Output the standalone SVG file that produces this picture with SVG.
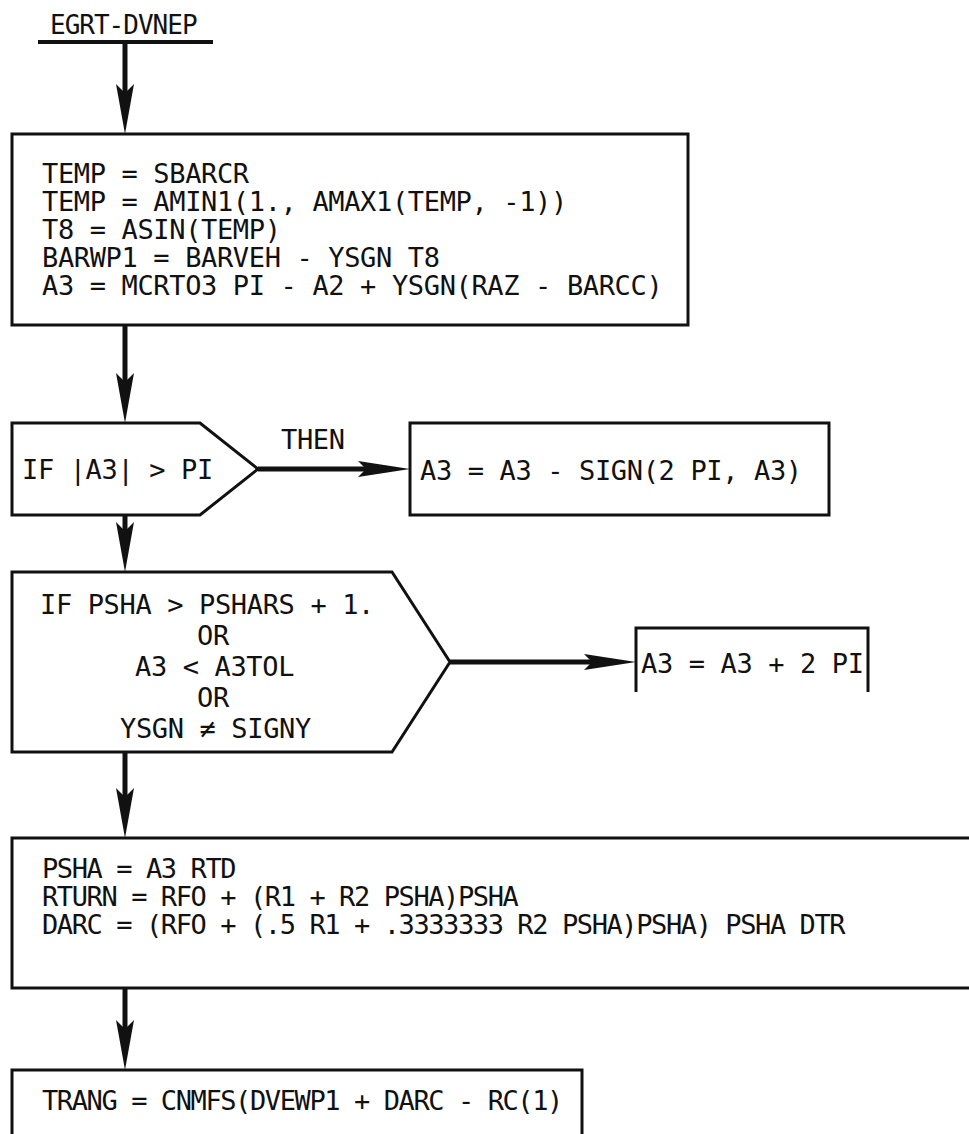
<svg xmlns="http://www.w3.org/2000/svg" width="969" height="1134" viewBox="0 0 969 1134">
<style>
.t{font-family:"DejaVu Sans Mono","Liberation Mono",monospace;font-size:27px;fill:#111;letter-spacing:-0.35px}
.n{letter-spacing:-1.4px}
.b{fill:#fff;stroke:#111;stroke-width:3}
.o{fill:none;stroke:#111;stroke-width:3}
.c{stroke:#111;stroke-width:5;fill:none}
.h{fill:#111}
</style>
<rect width="969" height="1134" fill="#fff"/>
<g id="title">
<text class="t" x="50" y="34" style="font-size:26px;letter-spacing:-1px">EGRT-DVNEP</text>
<line x1="38" y1="42" x2="213" y2="42" stroke="#111" stroke-width="4"/>
</g>
<g id="box1">
<rect class="b" x="12" y="134" width="676" height="191"/>
<text class="t" x="42" y="183">TEMP = SBARCR</text>
<text class="t" x="42" y="211">TEMP = AMIN1(1., AMAX1(TEMP, -1))</text>
<text class="t" x="42" y="239">T8 = ASIN(TEMP)</text>
<text class="t" x="42" y="267">BARWP1 = BARVEH - YSGN T8</text>
<text class="t" x="42" y="295">A3 = MCRTO3 PI - A2 + YSGN(RAZ - BARCC)</text>
</g>
<g id="dec1">
<path class="b" d="M12 423 H200 L258 469 L200 515 H12 Z"/>
<text class="t" x="22" y="479">IF |A3| &gt; PI</text>
</g>
<g id="box2">
<rect class="b" x="410" y="423" width="419" height="92"/>
<text class="t" x="420" y="480">A3 = A3 - SIGN(2 PI, A3)</text>
</g>
<g id="dec2">
<path class="b" d="M12 572 H392 L450 662 L392 752 H12 Z"/>
<text class="t" x="40" y="614">IF PSHA &gt; PSHARS + 1.</text>
<text class="t" x="197" y="645">OR</text>
<text class="t" x="135" y="676">A3 &lt; A3TOL</text>
<text class="t" x="197" y="707">OR</text>
<text class="t" x="120" y="738">YSGN ≠ SIGNY</text>
</g>
<g id="box3">
<path class="o" d="M636 692 V628 H868 V692"/>
<text class="t" x="641" y="673">A3 = A3 + 2 PI</text>
</g>
<g id="box4">
<rect class="b" x="12" y="838" width="980" height="150"/>
<text class="t n" x="42" y="878">PSHA = A3 RTD</text>
<text class="t n" x="42" y="906">RTURN = RFO + (R1 + R2 PSHA)PSHA</text>
<text class="t n" x="42" y="934">DARC = (RFO + (.5 R1 + .3333333 R2 PSHA)PSHA) PSHA DTR</text>
</g>
<g id="box5">
<rect class="b" x="12" y="1070" width="570" height="90"/>
<text class="t n" x="42" y="1110">TRANG = CNMFS(DVEWP1 + DARC - RC(1)</text>
</g>
<g id="connectors">
<line class="c" x1="125" y1="42" x2="125" y2="100"/>
<polygon class="h" points="116,84 125,93 134,84 125,134"/>
<line class="c" x1="125" y1="325" x2="125" y2="390"/>
<polygon class="h" points="116,373 125,382 134,373 125,423"/>
<line class="c" x1="258" y1="469" x2="370" y2="469"/>
<polygon class="h" points="358,461 366,469 358,477 410,469"/>
<text class="t" x="281" y="449">THEN</text>
<line class="c" x1="125" y1="515" x2="125" y2="540"/>
<polygon class="h" points="116,522 125,531 134,522 125,572"/>
<line class="c" x1="450" y1="662" x2="600" y2="662"/>
<polygon class="h" points="584,654 592,662 584,670 636,662"/>
<line class="c" x1="125" y1="752" x2="125" y2="805"/>
<polygon class="h" points="116,788 125,797 134,788 125,838"/>
<line class="c" x1="125" y1="988" x2="125" y2="1035"/>
<polygon class="h" points="116,1020 125,1029 134,1020 125,1070"/>
</g>
</svg>
